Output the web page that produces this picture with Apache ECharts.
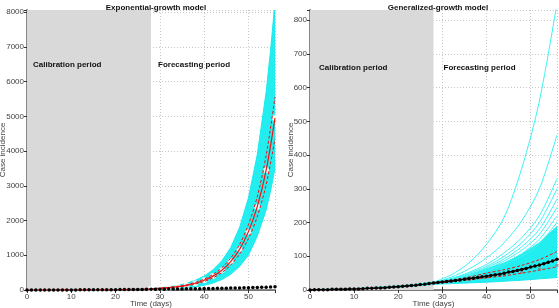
<!DOCTYPE html>
<html>
<head>
<meta charset="utf-8">
<script src="https://cdn.jsdelivr.net/npm/echarts@6/dist/echarts.min.js"></script>
<style>
html, body { margin: 0; padding: 0; background: #fff; }
#chart { width: 559px; height: 308px; }
</style>
</head>
<body>
<div id="chart"></div>
<script>
// observed daily cases, day 0..56
const obsCases = [0,1,1,1,1,2,2,2,2,3,3,3,4,5,5,6,6,7,8,9,10,11,12,13,14,16,17,19,21,22,24,25,27,28,30,32,34,35,37,39,41,43,45,47,50,53,55,58,61,64,68,71,74,78,82,86,91]

// model fits (every 2 days)
const fitDays = [0,2,4,6,8,10,12,14,16,18,20,22,24,26,28,30,32,34,36,38,40,42,44,46,48,50,52,54,56]
const expFit = [0.3,0.4,0.6,0.8,1.1,1.5,2.1,2.9,4,5.6,8,11,16,23,33,47,67,95,135,195,280,400,570,820,1170,1680,2400,3450,4950]
const ggmFit = [0.5,1,1.3,1.8,2.3,3,4,5,6.3,8,9.8,12,14.5,17,20,23,27,30,34,37,41,45,50,55,61,68,74,82,91]

// exponential model: forecast ensemble envelope + 95% PI
const expBandDays = [20,24,28,30,32,34,36,38,40,42,44,46,48,50,52,54,55,56]
const expBandHi = [9,20,43,62,90,130,190,280,400,580,840,1220,1800,2650,3900,5700,6900,8300]
const expBandLo = [3,6,14,20,28,40,60,90,135,200,300,450,680,1000,1550,2300,2850,3500]
const expCiDays = [28,30,32,34,36,38,40,42,44,46,48,50,52,54,56]
const expCiHi = [38,54,76,108,153,220,315,450,640,920,1310,1880,2690,3870,5550]
const expCiLo = [28,40,57,82,117,170,245,350,500,720,1030,1480,2110,3030,4350]

// generalized-growth model: dense ensemble + separate curves + 95% PI
const ggmBandDays = [0,10,20,24,28,32,36,40,44,48,52,56]
const ggmBandLo = [0,2.5,8.5,12,17,19,21,23,26,29,33,37]
const ggmBandHi = [1,4,12,17,24,32,44,62,80,105,140,188]
const ggmPathDays = [28,32,36,40,44,48,52,56]
const ggmPaths = [
    [23,45,80,135,215,360,560,850],
    [22,38,62,95,140,205,300,460],
    [22,34,52,76,110,155,220,330],
    [22,33,49,70,100,140,200,300],
    [22,32,46,66,92,128,180,270],
    [22,31,44,62,86,118,165,245],
    [21,30,42,58,80,108,150,220],
    [21,29,40,55,75,100,138,200]
]
const ggmCiDays = [28,32,36,40,44,48,52,56]
const ggmCiHi = [22,29,38,50,60,73,90,114]
const ggmCiLo = [20,25,30,36,42,50,59,69]
const ggmMid = [21,26,31,38,45,53,62,73]

const calibEnd = 28
const dayMax = 56
const xTicks = 10

const pairs = (xs, ys) => xs.map((x, i) => [x, ys[i]])
const myChart = echarts.init(document.getElementById('chart'))

const axisFont = { fontFamily: 'Liberation Sans', fontSize: 8, color: '#444' }
const frame = { show: true, lineStyle: { color: '#777', width: 1 } }

function xAxes(grid) {
    return [{
        gridIndex: grid, type: 'value', min: 0, max: dayMax, interval: xTicks,
        axisLine: { show: true, onZero: false, lineStyle: { color: '#888', width: 2 } },
        axisTick: { inside: true, length: 3, lineStyle: { color: '#333' } },
        axisLabel: Object.assign({ margin: 3, showMaxLabel: false }, axisFont),
        splitLine: { show: true, lineStyle: { type: [1, 2], color: '#c8c8c8' } },
        name: 'Time (days)', nameLocation: 'middle', nameGap: 10, nameMoveOverlap: false,
        nameTextStyle: { fontFamily: 'Liberation Sans', fontSize: 8, color: '#444' }
    }, {
        gridIndex: grid, type: 'value', position: 'top', min: 0, max: dayMax, interval: xTicks,
        axisLine: frame, axisTick: { inside: true, length: 3, lineStyle: { color: '#333' } },
        axisLabel: { show: false }, splitLine: { show: false }
    }]
}
function yAxes(grid, max, step, gap) {
    return [{
        gridIndex: grid, type: 'value', min: 0, max: max, interval: step,
        axisLine: { show: true, onZero: false, lineStyle: { color: '#666', width: 1 } },
        axisTick: { inside: true, length: 3, lineStyle: { color: '#333' } },
        axisLabel: Object.assign({ margin: 3, showMaxLabel: false, formatter: v => String(v) }, axisFont),
        splitLine: { show: true, lineStyle: { type: [1, 2], color: '#c8c8c8' } },
        name: 'Case incidence', nameLocation: 'middle', nameGap: gap, nameRotate: 90, nameMoveOverlap: false,
        nameTextStyle: { fontFamily: 'Liberation Sans', fontSize: 8, color: '#444' }
    }, {
        gridIndex: grid, type: 'value', position: 'right', min: 0, max: max, interval: step,
        axisLine: { show: true, lineStyle: { color: '#888', width: 2 } },
        axisTick: { inside: true, length: 3, lineStyle: { color: '#333' } },
        axisLabel: { show: false }, splitLine: { show: false }
    }]
}

function periods(xi, yi, offX, offY) {
    const lbl = (dx) => ({
        show: true, position: [dx, offY], align: 'left', verticalAlign: 'middle',
        formatter: '{b}', fontFamily: 'Liberation Sans', fontSize: 8, fontWeight: 'bold', color: '#111'
    })
    return {
        type: 'line', xAxisIndex: xi, yAxisIndex: yi, data: [], z: 1, silent: true,
        markArea: {
            silent: true,
            data: [
                [{ name: 'Calibration period', xAxis: 0, itemStyle: { color: '#d9d9d9' }, label: lbl(offX[0]) },
                 { xAxis: calibEnd }],
                [{ name: 'Forecasting period', xAxis: calibEnd, itemStyle: { color: 'rgba(0,0,0,0)' }, label: lbl(offX[1]) },
                 { xAxis: dayMax }]
            ]
        }
    }
}

// filled envelope between two curves, drawn through the axes' scales
function band(xi, yi, days, lo, hi) {
    return {
        type: 'custom', xAxisIndex: xi, yAxisIndex: yi, data: [[days[0], lo[0]]], z: 3, silent: true, clip: true,
        renderItem: (params, api) => {
            const top = days.map((d, i) => api.coord([d, hi[i]]))
            const bot = days.map((d, i) => api.coord([d, lo[i]])).reverse()
            return {
                type: 'polygon', shape: { points: top.concat(bot) },
                style: { fill: '#22eef0', stroke: '#1ce8ee', lineWidth: 1 }
            }
        }
    }
}

function line(xi, yi, data, style, extra) {
    return Object.assign({
        type: 'line', xAxisIndex: xi, yAxisIndex: yi, smooth: 0.3,
        symbol: 'none', lineStyle: style, data: data, silent: true
    }, extra || {})
}

const obsPts = obsCases.map((v, d) => [d, v])
const series = [
    periods(0, 0, [6, 7], 55),
    periods(2, 2, [9, 10], 58),
    band(0, 0, expBandDays, expBandLo, expBandHi),
    band(2, 2, ggmBandDays, ggmBandLo, ggmBandHi),
    ...ggmPaths.map(p => line(2, 2, pairs(ggmPathDays, p), { color: '#3cf2f4', width: 1 }, { z: 3 })),
    // grey markers under the mean curves
    {
        type: 'scatter', xAxisIndex: 0, yAxisIndex: 0, symbol: 'emptyCircle', symbolSize: 4,
        itemStyle: { color: '#fff', borderColor: '#8a8a8a', borderWidth: 1 }, z: 4, silent: true,
        data: pairs(fitDays, expFit).filter(p => p[0] >= calibEnd)
    },
    {
        type: 'scatter', xAxisIndex: 2, yAxisIndex: 2, symbol: 'rect', symbolSize: 3,
        itemStyle: { color: '#8a8a8a' }, z: 4, silent: true,
        data: pairs(ggmCiDays, ggmMid)
    },
    line(0, 0, pairs(expCiDays, expCiHi), { color: '#ee1111', width: 1, type: [3, 2] }, { z: 5 }),
    line(0, 0, pairs(expCiDays, expCiLo), { color: '#ee1111', width: 1, type: [3, 2] }, { z: 5 }),
    line(2, 2, pairs(ggmCiDays, ggmCiHi), { color: '#ee1111', width: 1, type: [3, 2] }, { z: 5 }),
    line(2, 2, pairs(ggmCiDays, ggmCiLo), { color: '#ee1111', width: 1, type: [3, 2] }, { z: 5 }),
    line(0, 0, pairs(fitDays, expFit), { color: '#ee1111', width: 1.2 }, { z: 6 }),
    line(2, 2, pairs(fitDays, ggmFit), { color: '#ee1111', width: 1.2 }, { z: 6 }),
    {
        type: 'line', xAxisIndex: 0, yAxisIndex: 0, data: obsPts, symbol: 'circle', symbolSize: 3.5,
        itemStyle: { color: '#000' }, lineStyle: { width: 0 }, z: 7, silent: true
    },
    {
        type: 'line', xAxisIndex: 2, yAxisIndex: 2, data: obsPts, symbol: 'circle', symbolSize: 3.5,
        itemStyle: { color: '#000' }, lineStyle: { color: '#000', width: 1.2 }, z: 7, silent: true
    }
]

const option = {
    animation: false,
    title: [
        { text: 'Exponential-growth model', left: 151, top: -1, textAlign: 'center',
          textStyle: { fontFamily: 'Liberation Sans', fontSize: 8, fontWeight: 'bold', color: '#111' } },
        { text: 'Generalized-growth model', left: 433, top: -1, textAlign: 'center',
          textStyle: { fontFamily: 'Liberation Sans', fontSize: 8, fontWeight: 'bold', color: '#111' } }
    ],
    grid: [
        { left: 27, top: 10, width: 248, height: 280, outerBoundsMode: 'none', containLabel: false },
        { left: 310, top: 10, width: 247, height: 280, outerBoundsMode: 'none', containLabel: false }
    ],
    xAxis: [...xAxes(0), ...xAxes(1)],
    yAxis: [...yAxes(0, 8060, 1000, 20), ...yAxes(1, 830, 100, 15)],
    series: series
}
myChart.setOption(option)
</script>
</body>
</html>
